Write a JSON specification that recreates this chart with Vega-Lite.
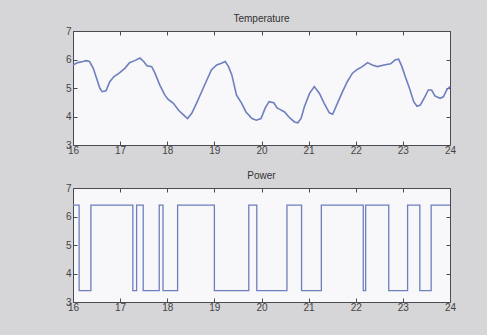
{
  "$schema": "https://vega.github.io/schema/vega-lite/v6.json",
  "background": "#d6d5d7",
  "padding": {"left": 64, "top": 13, "right": 30, "bottom": 25},
  "config": {
    "view": {"stroke": "#4a4a52", "strokeWidth": 1, "fill": "#f8f7f9"},
    "font": "Liberation Sans",
    "title": {"fontSize": 10, "fontWeight": "normal", "color": "#333333", "offset": 2},
    "axis": {"grid": false, "domain": false, "tickSize": -4, "tickColor": "#4a4a52", "labelFontSize": 10, "labelColor": "#444444", "title": null}
  },
  "datasets": {
    "temp": [
      {"t": 16.0, "v": 5.81}, {"t": 16.1, "v": 5.89}, {"t": 16.21, "v": 5.93}, {"t": 16.28, "v": 5.96},
      {"t": 16.35, "v": 5.93}, {"t": 16.43, "v": 5.69}, {"t": 16.5, "v": 5.34}, {"t": 16.57, "v": 4.99},
      {"t": 16.62, "v": 4.87}, {"t": 16.7, "v": 4.9}, {"t": 16.78, "v": 5.22}, {"t": 16.87, "v": 5.4},
      {"t": 16.98, "v": 5.52}, {"t": 17.1, "v": 5.69}, {"t": 17.2, "v": 5.89}, {"t": 17.31, "v": 5.96},
      {"t": 17.42, "v": 6.05}, {"t": 17.5, "v": 5.93}, {"t": 17.57, "v": 5.78}, {"t": 17.67, "v": 5.75},
      {"t": 17.74, "v": 5.52}, {"t": 17.84, "v": 5.11}, {"t": 17.95, "v": 4.75}, {"t": 18.02, "v": 4.6},
      {"t": 18.13, "v": 4.46}, {"t": 18.24, "v": 4.22}, {"t": 18.35, "v": 4.05}, {"t": 18.43, "v": 3.93},
      {"t": 18.52, "v": 4.11}, {"t": 18.62, "v": 4.46}, {"t": 18.73, "v": 4.87}, {"t": 18.84, "v": 5.28},
      {"t": 18.94, "v": 5.64}, {"t": 19.05, "v": 5.81}, {"t": 19.15, "v": 5.87}, {"t": 19.23, "v": 5.93},
      {"t": 19.3, "v": 5.75}, {"t": 19.37, "v": 5.46}, {"t": 19.47, "v": 4.75}, {"t": 19.58, "v": 4.46},
      {"t": 19.67, "v": 4.16}, {"t": 19.8, "v": 3.93}, {"t": 19.89, "v": 3.87}, {"t": 19.99, "v": 3.93},
      {"t": 20.08, "v": 4.3}, {"t": 20.16, "v": 4.52}, {"t": 20.26, "v": 4.48}, {"t": 20.33, "v": 4.3},
      {"t": 20.39, "v": 4.25}, {"t": 20.49, "v": 4.16}, {"t": 20.6, "v": 3.95}, {"t": 20.7, "v": 3.81},
      {"t": 20.77, "v": 3.78}, {"t": 20.84, "v": 3.93}, {"t": 20.91, "v": 4.34}, {"t": 21.02, "v": 4.81},
      {"t": 21.12, "v": 5.05}, {"t": 21.23, "v": 4.81}, {"t": 21.33, "v": 4.46}, {"t": 21.44, "v": 4.13},
      {"t": 21.51, "v": 4.08}, {"t": 21.61, "v": 4.46}, {"t": 21.72, "v": 4.87}, {"t": 21.82, "v": 5.22},
      {"t": 21.93, "v": 5.52}, {"t": 22.04, "v": 5.66}, {"t": 22.14, "v": 5.75}, {"t": 22.25, "v": 5.89},
      {"t": 22.35, "v": 5.81}, {"t": 22.46, "v": 5.75}, {"t": 22.6, "v": 5.81}, {"t": 22.74, "v": 5.85},
      {"t": 22.84, "v": 5.99}, {"t": 22.91, "v": 6.01}, {"t": 22.98, "v": 5.75}, {"t": 23.05, "v": 5.4},
      {"t": 23.14, "v": 4.99}, {"t": 23.23, "v": 4.52}, {"t": 23.3, "v": 4.36}, {"t": 23.37, "v": 4.4},
      {"t": 23.45, "v": 4.64}, {"t": 23.54, "v": 4.93}, {"t": 23.61, "v": 4.93}, {"t": 23.68, "v": 4.72},
      {"t": 23.79, "v": 4.64}, {"t": 23.86, "v": 4.69}, {"t": 23.93, "v": 4.93}, {"t": 24.0, "v": 5.05}
    ],
    "power": [
      {"t": 16.0, "v": 6.4}, {"t": 16.13, "v": 3.4}, {"t": 16.38, "v": 6.4}, {"t": 17.27, "v": 3.4},
      {"t": 17.35, "v": 6.4}, {"t": 17.49, "v": 3.4}, {"t": 17.83, "v": 6.4}, {"t": 17.91, "v": 3.4},
      {"t": 18.22, "v": 6.4}, {"t": 19.0, "v": 3.4}, {"t": 19.73, "v": 6.4}, {"t": 19.9, "v": 3.4},
      {"t": 20.54, "v": 6.4}, {"t": 20.85, "v": 3.4}, {"t": 21.27, "v": 6.4}, {"t": 22.16, "v": 3.4},
      {"t": 22.21, "v": 6.4}, {"t": 22.7, "v": 3.4}, {"t": 23.1, "v": 6.4}, {"t": 23.36, "v": 3.4},
      {"t": 23.6, "v": 6.4}, {"t": 24.0, "v": 6.4}
    ]
  },
  "vconcat": [
    {
      "title": "Temperature",
      "width": 377,
      "height": 114,
      "data": {"name": "temp"},
      "layer": [
        {
          "mark": {"type": "line", "color": "#6d7fbf", "strokeWidth": 1.6},
          "encoding": {
            "x": {"field": "t", "type": "quantitative", "scale": {"domain": [16, 24], "nice": false}, "axis": {"orient": "bottom", "values": [16,17,18,19,20,21,22,23,24], "labelPadding": 4, "labelFlush": false}},
            "y": {"field": "v", "type": "quantitative", "scale": {"domain": [3, 7], "nice": false, "zero": false}, "axis": {"orient": "left", "values": [3,4,5,6,7], "labelPadding": 6}}
          }
        },
        {
          "mark": {"type": "line", "strokeOpacity": 0},
          "encoding": {
            "x": {"field": "t", "type": "quantitative", "axis": {"orient": "top", "values": [16,17,18,19,20,21,22,23,24], "labels": false}},
            "y": {"field": "v", "type": "quantitative", "axis": {"orient": "right", "values": [3,4,5,6,7], "labels": false}}
          }
        }
      ],
      "resolve": {"axis": {"x": "independent", "y": "independent"}}
    },
    {
      "title": "Power",
      "width": 377,
      "height": 114,
      "data": {"name": "power"},
      "layer": [
        {
          "mark": {"type": "line", "color": "#6d7fbf", "strokeWidth": 1.3, "interpolate": "step-after"},
          "encoding": {
            "x": {"field": "t", "type": "quantitative", "scale": {"domain": [16, 24], "nice": false}, "axis": {"orient": "bottom", "values": [16,17,18,19,20,21,22,23,24], "labelPadding": 4, "labelFlush": false}},
            "y": {"field": "v", "type": "quantitative", "scale": {"domain": [3, 7], "nice": false, "zero": false}, "axis": {"orient": "left", "values": [3,4,5,6,7], "labelPadding": 6}}
          }
        },
        {
          "mark": {"type": "line", "strokeOpacity": 0},
          "encoding": {
            "x": {"field": "t", "type": "quantitative", "axis": {"orient": "top", "values": [16,17,18,19,20,21,22,23,24], "labels": false}},
            "y": {"field": "v", "type": "quantitative", "axis": {"orient": "right", "values": [3,4,5,6,7], "labels": false}}
          }
        }
      ],
      "resolve": {"axis": {"x": "independent", "y": "independent"}}
    }
  ],
  "spacing": 43,
  "bounds": "flush"
}
